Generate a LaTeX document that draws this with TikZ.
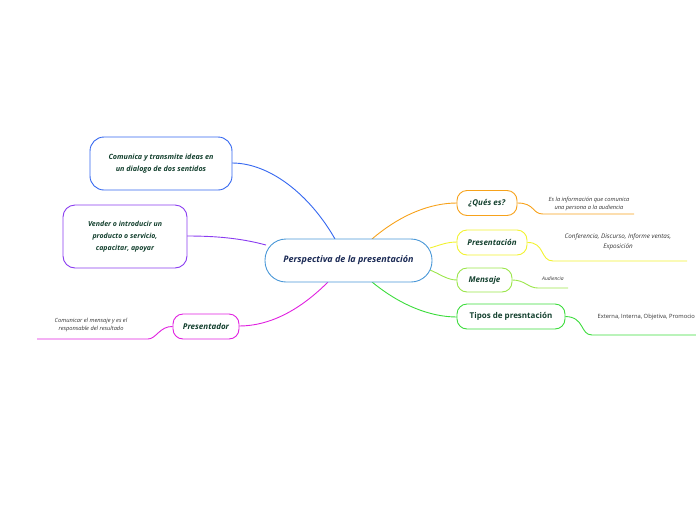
\documentclass[tikz,border=0pt]{standalone}
\usepackage{fontspec}
\setmainfont{Open Sans}
\begin{document}
\begin{tikzpicture}[x=1pt,y=-1pt,
  box/.style={draw,rounded corners=10pt,line width=0.9pt,fill=white,inner sep=0pt,align=center},
  lbl/.style={font=\fontsize{8}{10}\selectfont\bfseries\itshape,text=nodetxt},
  small/.style={font=\fontsize{5.7}{8}\selectfont\itshape,text=black!80,align=center},
  conn/.style={line width=0.9pt}]
\definecolor{nodetxt}{HTML}{13402E}
\definecolor{ctrtxt}{HTML}{1B2A55}
\definecolor{cblue}{HTML}{4A98D8}
\definecolor{bblue}{HTML}{3467F0}
\definecolor{cpurple}{HTML}{8A3CF0}
\definecolor{cmag}{HTML}{E020E0}
\definecolor{corange}{HTML}{F7A21B}
\definecolor{cyellow}{HTML}{F2F230}
\definecolor{clime}{HTML}{9BE64A}
\definecolor{cgreen}{HTML}{3CDC3C}
\useasboundingbox (0,0) rectangle (696,520);
% connectors from center (drawn first)
\coordinate (ct) at (335,239);
\coordinate (ctr) at (372,239);
\coordinate (cl) at (266,245);
\coordinate (cb) at (328,282);
\coordinate (cbr) at (372,282);
\coordinate (cr1) at (430,248);
\coordinate (cr2) at (430,270);
\draw[conn,bblue] (ct) .. controls (310,195) and (270,163) .. (232,163);
\draw[conn,cpurple] (cl) .. controls (240,238) and (215,236) .. (187,236);
\draw[conn,cmag] (cb) .. controls (300,310) and (270,326) .. (239,326);
\draw[conn,corange] (ctr) .. controls (400,215) and (430,203) .. (457,203);
\draw[conn,cyellow] (cr1) .. controls (440,245) and (447,242) .. (457,242);
\draw[conn,clime] (cr2) .. controls (440,274) and (447,280) .. (457,280);
\draw[conn,cgreen] (cbr) .. controls (400,305) and (430,317) .. (457,317);
% center
\node[box,draw=cblue,rounded corners=21pt,minimum width=167pt,minimum height=43pt,
      font=\fontsize{9}{11}\selectfont\bfseries\itshape,text=ctrtxt] (c) at (348.5,260.5) {Perspectiva de la presentación};
% right nodes
\node[box,draw=corange,minimum width=60pt,minimum height=25pt,lbl] (q) at (487,203) {¿Qués es?};
\node[box,draw=cyellow,minimum width=70pt,minimum height=25pt,lbl] (p) at (492,242.5) {Presentación};
\node[box,draw=clime,minimum width=55pt,minimum height=24pt,lbl] (m) at (484.5,280) {Mensaje};
\node[box,draw=cgreen,minimum width=108pt,minimum height=25pt,
      font=\fontsize{8}{10}\selectfont\bfseries,text=nodetxt] (t) at (511,316.5) {Tipos de presntación};
% left nodes
\node[box,draw=cmag,minimum width=66pt,minimum height=25pt,lbl] (pr) at (206,326.5) {Presentador};
\node[box,draw=cpurple,rounded corners=12pt,minimum width=124pt,minimum height=63pt,lbl,
      font=\fontsize{7}{12}\selectfont\bfseries\itshape] (v) at (125,236.5) {Vender o introducir un\\producto o servicio,\\capacitar, apoyar};
\node[box,draw=bblue,rounded corners=14pt,minimum width=142pt,minimum height=53pt,lbl,
      font=\fontsize{7.2}{12}\selectfont\bfseries\itshape] (cm) at (161,163.5) {Comunica y transmite ideas en\\un dialogo de dos sentidos};
% leaf texts with underlines
\node[small] (qa) at (589,203.5) {Es la información que comunica\\una persona a la audiencia};
\coordinate (qu1) at (543,214); \coordinate (qu2) at (634,214);
\draw[conn,corange] (q.east) .. controls (535,203) and (532,214) .. (qu1) -- (qu2);
\node[small,font=\fontsize{6.3}{10}\selectfont\itshape] (pa) at (618,241.5) {Conferencia, Discurso, Informe ventas,\\Exposición};
\coordinate (pu1) at (553,261); \coordinate (pu2) at (687,261);
\draw[conn,cyellow] (p.east) .. controls (545,242) and (540,261) .. (pu1) -- (pu2);
\node[small,font=\fontsize{5}{8}\selectfont\itshape] (ma) at (553,278.5) {Audiencia};
\coordinate (mu1) at (538,288); \coordinate (mu2) at (568,288);
\draw[conn,clime] (m.east) .. controls (525,280) and (528,288) .. (mu1) -- (mu2);
\node[small,font=\fontsize{5.8}{8}\selectfont,anchor=west] (ta) at (594,316.5) {Externa, Interna, Objetiva, Promocio};
\coordinate (tu1) at (592,335); \coordinate (tu2) at (696,335);
\draw[conn,cgreen] (t.east) .. controls (585,317) and (580,335) .. (tu1) -- (tu2);
\node[small] (pra) at (91,325.5) {Comunicar el mensaje y es el\\responsable del resultado};
\coordinate (pru1) at (148,339); \coordinate (pru2) at (37,339);
\draw[conn,cmag] (pr.west) .. controls (160,326) and (156,339) .. (pru1) -- (pru2);
\end{tikzpicture}
\end{document}
